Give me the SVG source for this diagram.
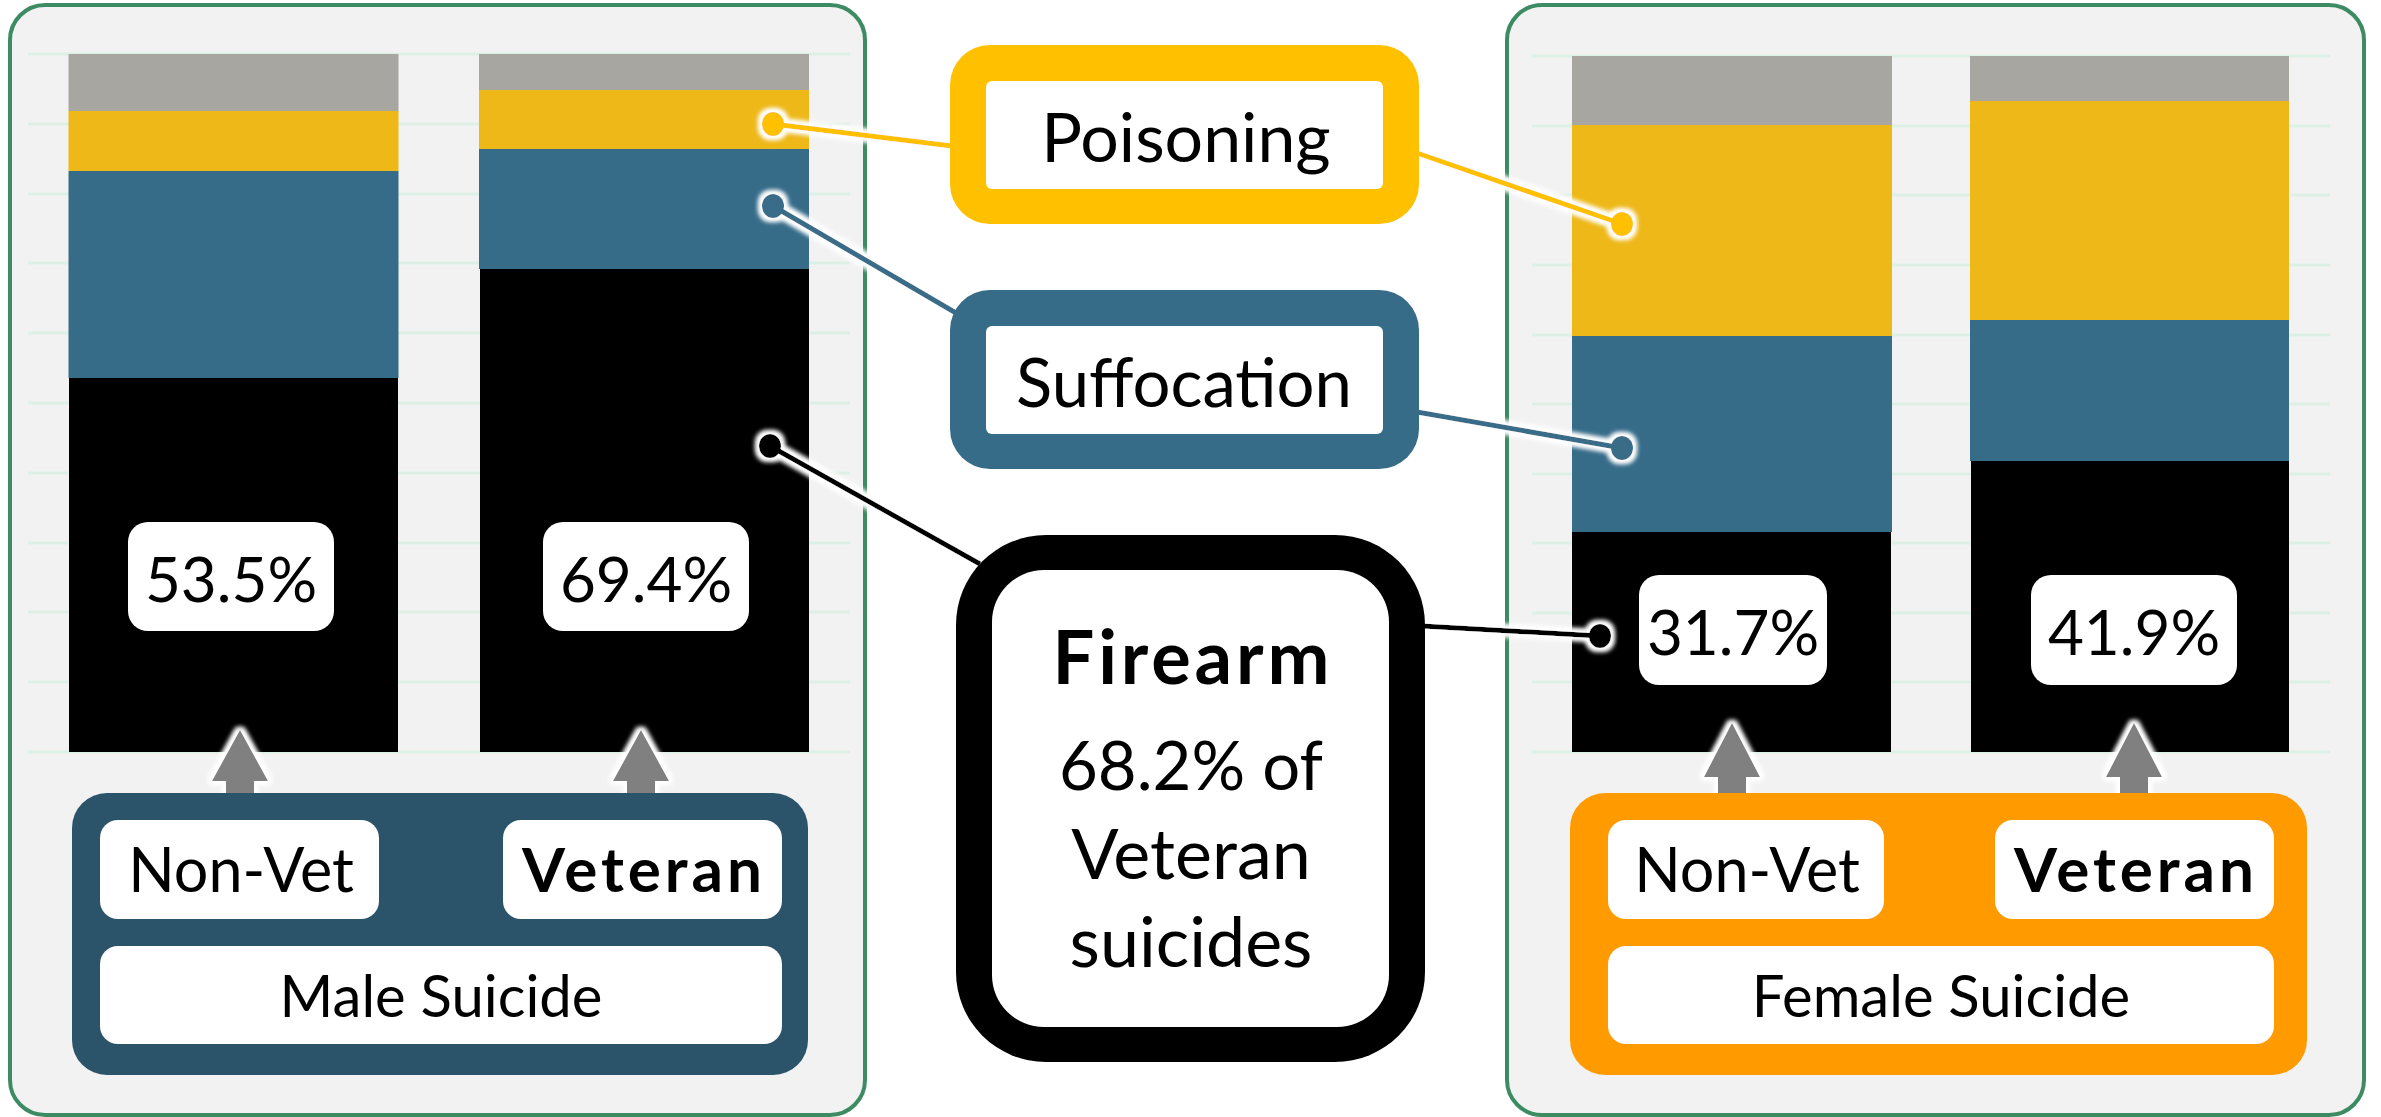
<svg xmlns="http://www.w3.org/2000/svg" width="2381" height="1117" viewBox="0 0 2381 1117">
<defs>
<style>
.panel{fill:#F2F2F2;stroke:#3D8B62;stroke-width:4}
.grid{stroke:#DDF0E6;stroke-width:3}
.gray{fill:#A7A6A1}
.yel{fill:#EDB818}
.blu{fill:#376C89}
.blk{fill:#000}
.wbox{fill:#fff}
.t{font-family:Lato,"Open Sans",sans-serif;fill:#000;text-anchor:middle}
.pct{font-size:62px}
.lbl{font-size:58px}
.nv{font-size:61px}
.vt{font-size:62px;font-weight:bold}
.big{font-size:70px}
.b{font-weight:bold}
.ln{fill:none;stroke-width:5}
.arr{fill:#808080}
</style>
<filter id="glow" filterUnits="userSpaceOnUse" x="0" y="0" width="2381" height="1117">
<feMorphology in="SourceAlpha" operator="dilate" radius="3" result="d"/>
<feGaussianBlur in="d" stdDeviation="2.5" result="bl"/>
<feFlood flood-color="#ffffff"/>
<feComposite in2="bl" operator="in" result="g"/>
<feMerge><feMergeNode in="g"/><feMergeNode in="g"/><feMergeNode in="SourceGraphic"/></feMerge>
</filter>
</defs>
<rect width="2381" height="1117" fill="#fff"/>

<g id="male-panel">
<rect class="panel" x="10" y="5" width="855" height="1110" rx="35"/>
<g class="grid">
<line x1="28" y1="54" x2="850" y2="54"/><line x1="28" y1="124" x2="850" y2="124"/><line x1="28" y1="194" x2="850" y2="194"/><line x1="28" y1="263" x2="850" y2="263"/><line x1="28" y1="333" x2="850" y2="333"/><line x1="28" y1="403" x2="850" y2="403"/><line x1="28" y1="473" x2="850" y2="473"/><line x1="28" y1="543" x2="850" y2="543"/><line x1="28" y1="612" x2="850" y2="612"/><line x1="28" y1="682" x2="850" y2="682"/><line x1="28" y1="752" x2="850" y2="752"/>
</g>
<g id="bar-male-nonvet">
<rect class="gray" x="68.5" y="54" width="330" height="57"/>
<rect class="yel" x="68.5" y="111" width="330" height="60"/>
<rect class="blu" x="68.5" y="171" width="330" height="207"/>
<rect class="blk" x="69" y="378" width="329" height="374"/>
</g>
<g id="bar-male-vet">
<rect class="gray" x="479" y="54" width="330" height="36"/>
<rect class="yel" x="479" y="90" width="330" height="59"/>
<rect class="blu" x="479" y="149" width="330" height="120"/>
<rect class="blk" x="480" y="269" width="329" height="483"/>
</g>
</g>

<g id="female-panel">
<rect class="panel" x="1507" y="5" width="857" height="1110" rx="35"/>
<g class="grid">
<line x1="1532" y1="56" x2="2330" y2="56"/><line x1="1532" y1="126" x2="2330" y2="126"/><line x1="1532" y1="195" x2="2330" y2="195"/><line x1="1532" y1="265" x2="2330" y2="265"/><line x1="1532" y1="335" x2="2330" y2="335"/><line x1="1532" y1="404" x2="2330" y2="404"/><line x1="1532" y1="474" x2="2330" y2="474"/><line x1="1532" y1="543" x2="2330" y2="543"/><line x1="1532" y1="613" x2="2330" y2="613"/><line x1="1532" y1="682" x2="2330" y2="682"/><line x1="1532" y1="752" x2="2330" y2="752"/>
</g>
<g id="bar-female-nonvet">
<rect class="gray" x="1572" y="56" width="320" height="69"/>
<rect class="yel" x="1572" y="125" width="320" height="211"/>
<rect class="blu" x="1572" y="336" width="320" height="196"/>
<rect class="blk" x="1572" y="532" width="319" height="220"/>
</g>
<g id="bar-female-vet">
<rect class="gray" x="1970" y="56" width="319" height="45"/>
<rect class="yel" x="1970" y="101" width="319" height="219"/>
<rect class="blu" x="1970" y="320" width="319" height="141"/>
<rect class="blk" x="1971" y="461" width="318" height="291"/>
</g>
</g>

<g id="connectors" filter="url(#glow)">
<polyline class="ln" stroke="#FFC000" points="773,124 952,146"/>
<polyline class="ln" stroke="#FFC000" points="1417,153 1622,224"/>
<ellipse cx="773" cy="124" rx="11" ry="12" fill="#FFC000"/>
<ellipse cx="1622" cy="224" rx="11" ry="12" fill="#FFC000"/>
<polyline class="ln" stroke="#376C89" points="773,206 956,313"/>
<polyline class="ln" stroke="#376C89" points="1417,412 1622,448"/>
<ellipse cx="773" cy="206" rx="11" ry="12" fill="#376C89"/>
<ellipse cx="1622" cy="448" rx="11" ry="12" fill="#376C89"/>
<polyline class="ln" stroke="#000" stroke-width="6" points="770,446 980,564"/>
<polyline class="ln" stroke="#000" stroke-width="6" points="1422,626 1600,636"/>
<ellipse cx="770" cy="446" rx="11" ry="12" fill="#000"/>
<ellipse cx="1600" cy="636" rx="11" ry="12" fill="#000"/>
<polygon class="arr" points="240,730 268,781 254,781 254,822 226,822 226,781 212,781"/>
<polygon class="arr" points="641,730 669,781 655,781 655,822 627,822 627,781 613,781"/>
<polygon class="arr" points="1732,723 1760,777 1746,777 1746,822 1718,822 1718,777 1704,777"/>
<polygon class="arr" points="2134,723 2162,777 2148,777 2148,822 2120,822 2120,777 2106,777"/>
</g>

<g id="pct-male-nonvet">
<rect class="wbox" x="128" y="522" width="206" height="109" rx="20"/>
<text class="t pct" x="231" y="602">53.5%</text>
</g>
<g id="pct-male-vet">
<rect class="wbox" x="543" y="522" width="206" height="109" rx="20"/>
<text class="t pct" x="646" y="602">69.4%</text>
</g>
<g id="pct-female-nonvet">
<rect class="wbox" x="1639" y="575" width="188" height="110" rx="20"/>
<text class="t pct" x="1733" y="655">31.7%</text>
</g>
<g id="pct-female-vet">
<rect class="wbox" x="2031" y="575" width="206" height="110" rx="20"/>
<text class="t pct" x="2134" y="655">41.9%</text>
</g>

<g id="male-group">
<rect x="72" y="793" width="736" height="282" rx="35" fill="#2B5369"/>
<g id="male-nonvet">
<rect class="wbox" x="100" y="820" width="279" height="99" rx="18"/>
<text class="t nv" x="241" y="892">Non-Vet</text>
</g>
<g id="male-vet">
<rect class="wbox" x="503" y="820" width="279" height="99" rx="18"/>
<text class="t vt" x="642" y="892" textLength="240">Veteran</text>
</g>
<g id="male-suicide">
<rect class="wbox" x="100" y="946" width="682" height="98" rx="18"/>
<text class="t lbl" x="441" y="1017">Male Suicide</text>
</g>
</g>

<g id="female-group">
<rect x="1570" y="793" width="737" height="282" rx="35" fill="#FF9A00"/>
<g id="female-nonvet">
<rect class="wbox" x="1608" y="820" width="276" height="99" rx="18"/>
<text class="t nv" x="1747" y="892">Non-Vet</text>
</g>
<g id="female-vet">
<rect class="wbox" x="1995" y="820" width="279" height="99" rx="18"/>
<text class="t vt" x="2134" y="892" textLength="240">Veteran</text>
</g>
<g id="female-suicide">
<rect class="wbox" x="1608" y="946" width="666" height="98" rx="18"/>
<text class="t lbl" x="1941" y="1017">Female Suicide</text>
</g>
</g>

<g id="poisoning">
<rect x="950" y="45" width="469" height="179" rx="40" fill="#FFC000"/>
<rect class="wbox" x="986" y="81" width="397" height="108" rx="6"/>
<text class="t" style="font-size:68px" x="1186" y="162">Poisoning</text>
</g>
<g id="suffocation">
<rect x="950" y="290" width="469" height="179" rx="40" fill="#376C89"/>
<rect class="wbox" x="986" y="326" width="397" height="108" rx="6"/>
<text class="t" style="font-size:67px" x="1184" y="407">Suffocation</text>
</g>
<g id="firearm">
<rect x="956" y="535" width="469" height="527" rx="90" fill="#000"/>
<rect class="wbox" x="992" y="570" width="397" height="457" rx="52"/>
<text class="t b" style="font-size:74px" x="1191" y="684" textLength="277">Firearm</text>
<text class="t" style="font-size:67px" x="1191" y="790">68.2% of</text>
<text class="t big" x="1191" y="879">Veteran</text>
<text class="t big" x="1191" y="967">suicides</text>
</g>
</svg>
